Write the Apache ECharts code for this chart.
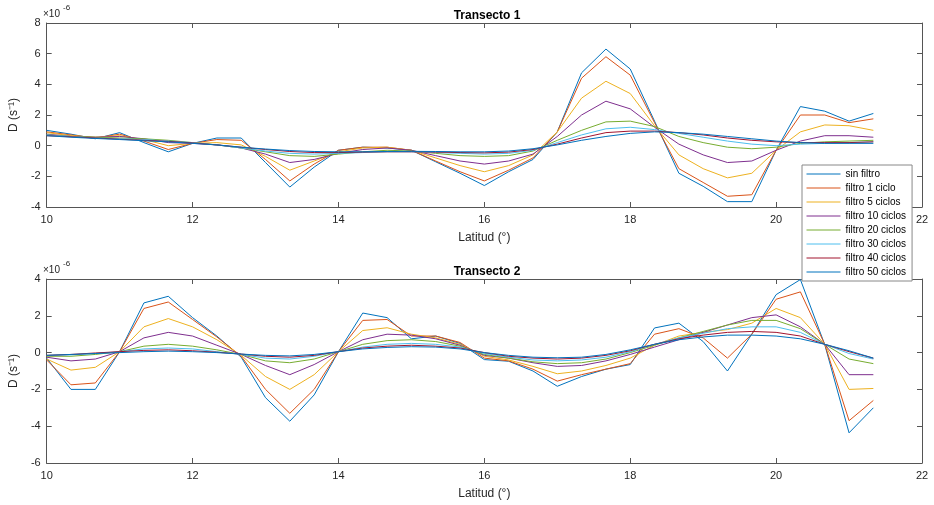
<!DOCTYPE html>
<html>
<head>
<meta charset="utf-8">
<script src="https://cdn.jsdelivr.net/npm/echarts@6/dist/echarts.min.js"></script>
<style>
html,body{margin:0;padding:0;background:#fff;}
#chart{width:934px;height:505px;}
</style>
</head>
<body>
<div id="chart"></div>
<script>
// Latitudes (x values)
const lat = [10.000,10.333,10.667,11.000,11.333,11.667,12.000,12.333,12.667,13.000,13.333,13.667,14.000,14.333,14.667,15.000,15.333,15.667,16.000,16.333,16.667,17.000,17.333,17.667,18.000,18.333,18.667,19.000,19.333,19.667,20.000,20.333,20.667,21.000,21.333];

const seriesNames = ['sin filtro','filtro 1 ciclo','filtro 5 ciclos','filtro 10 ciclos','filtro 20 ciclos','filtro 30 ciclos','filtro 40 ciclos','filtro 50 ciclos'];

// Transecto 1 (values x 1e-6)
const t1_sin = [1.0,0.75,0.45,0.85,0.2,-0.4,0.15,0.5,0.5,-1.1,-2.7,-1.4,-0.3,-0.1,-0.15,-0.3,-1.05,-1.8,-2.6,-1.7,-0.9,0.9,4.75,6.3,5.0,1.6,-1.8,-2.65,-3.65,-3.65,-0.3,2.55,2.25,1.6,2.1];
const t1_f1  = [0.9,0.7,0.5,0.75,0.3,-0.25,0.15,0.4,0.35,-0.9,-2.3,-1.2,-0.3,-0.1,-0.1,-0.3,-1.0,-1.7,-2.3,-1.6,-0.8,0.9,4.4,5.8,4.6,1.5,-1.5,-2.4,-3.3,-3.2,-0.3,2.0,2.0,1.5,1.75];
const t1_f5  = [0.85,0.65,0.55,0.65,0.4,0.0,0.15,0.2,0.05,-0.7,-1.6,-1.0,-0.4,-0.15,-0.1,-0.3,-0.8,-1.3,-1.7,-1.3,-0.6,0.9,3.1,4.2,3.4,1.3,-0.6,-1.5,-2.1,-1.8,-0.3,0.9,1.35,1.3,1.0];
const t1_f10 = [0.75,0.6,0.55,0.6,0.45,0.2,0.15,0.05,-0.15,-0.55,-1.1,-0.9,-0.5,-0.25,-0.15,-0.3,-0.65,-1.0,-1.2,-1.0,-0.55,0.6,2.0,2.9,2.4,1.2,0.1,-0.6,-1.1,-1.0,-0.3,0.3,0.65,0.65,0.55];
const t1_f20 = [0.7,0.6,0.55,0.5,0.45,0.35,0.2,0.05,-0.15,-0.4,-0.65,-0.7,-0.55,-0.4,-0.3,-0.35,-0.5,-0.65,-0.7,-0.65,-0.35,0.35,1.0,1.55,1.6,1.25,0.6,0.2,-0.1,-0.2,-0.1,0.15,0.25,0.3,0.35];
const t1_f30 = [0.7,0.6,0.5,0.45,0.4,0.3,0.2,0.05,-0.15,-0.35,-0.5,-0.55,-0.5,-0.45,-0.4,-0.4,-0.45,-0.5,-0.55,-0.5,-0.3,0.2,0.7,1.1,1.2,1.05,0.8,0.55,0.3,0.1,0.0,0.1,0.15,0.2,0.25];
const t1_f40 = [0.65,0.58,0.5,0.42,0.35,0.28,0.18,0.05,-0.1,-0.25,-0.38,-0.45,-0.45,-0.42,-0.4,-0.4,-0.42,-0.45,-0.47,-0.42,-0.25,0.1,0.5,0.85,0.95,0.95,0.85,0.7,0.5,0.35,0.25,0.2,0.2,0.2,0.25];
const t1_f50 = [0.65,0.55,0.47,0.4,0.32,0.25,0.15,0.05,-0.1,-0.22,-0.32,-0.38,-0.4,-0.4,-0.38,-0.37,-0.38,-0.4,-0.4,-0.35,-0.2,0.05,0.35,0.6,0.8,0.9,0.85,0.75,0.6,0.45,0.3,0.2,0.15,0.15,0.15];

// Transecto 2 (values x 1e-6)
const t2_sin = [-0.3,-2.0,-2.0,0.05,2.7,3.06,1.9,0.9,-0.25,-2.45,-3.73,-2.3,0.05,2.15,1.9,0.75,0.9,0.5,-0.38,-0.47,-1.0,-1.83,-1.3,-0.9,-0.65,1.34,1.6,0.6,-1.0,1.0,3.15,3.97,0.43,-4.36,-3.0];
const t2_f1  = [-0.4,-1.75,-1.65,0.05,2.4,2.75,1.8,0.85,-0.2,-2.0,-3.3,-2.0,0.05,1.75,1.8,0.9,0.9,0.55,-0.3,-0.45,-0.9,-1.55,-1.2,-0.9,-0.6,1.0,1.3,0.8,-0.3,1.0,2.9,3.3,0.45,-3.7,-2.6];
const t2_f5  = [-0.35,-0.95,-0.8,0.05,1.4,1.85,1.4,0.7,-0.15,-1.3,-2.0,-1.2,0.05,1.2,1.35,1.0,0.8,0.45,-0.2,-0.4,-0.75,-1.15,-1.0,-0.7,-0.3,0.4,0.9,1.1,1.25,1.6,2.4,1.9,0.45,-2.0,-1.95];
const t2_f10 = [-0.25,-0.45,-0.35,0.05,0.8,1.1,0.9,0.4,-0.1,-0.7,-1.2,-0.65,0.05,0.7,1.0,0.95,0.75,0.4,-0.15,-0.3,-0.55,-0.75,-0.7,-0.45,-0.1,0.3,0.7,1.1,1.5,1.9,2.05,1.4,0.45,-1.2,-1.2];
const t2_f20 = [-0.2,-0.2,-0.1,0.05,0.35,0.45,0.35,0.15,-0.1,-0.45,-0.55,-0.35,0.05,0.45,0.65,0.7,0.6,0.35,-0.1,-0.3,-0.5,-0.6,-0.55,-0.35,0.0,0.4,0.8,1.15,1.5,1.75,1.75,1.3,0.45,-0.35,-0.6];
const t2_f30 = [-0.15,-0.12,-0.05,0.05,0.2,0.25,0.2,0.05,-0.1,-0.3,-0.35,-0.2,0.05,0.3,0.45,0.5,0.45,0.3,-0.05,-0.25,-0.4,-0.45,-0.4,-0.25,0.05,0.45,0.8,1.05,1.3,1.4,1.4,1.1,0.45,-0.05,-0.35];
const t2_f40 = [-0.15,-0.1,-0.02,0.05,0.12,0.15,0.1,0.02,-0.08,-0.2,-0.25,-0.15,0.05,0.25,0.35,0.4,0.35,0.25,0.0,-0.2,-0.3,-0.35,-0.3,-0.15,0.1,0.45,0.75,0.95,1.1,1.15,1.1,0.9,0.45,0.05,-0.3];
const t2_f50 = [-0.15,-0.1,-0.05,0.0,0.05,0.08,0.05,0.0,-0.08,-0.15,-0.18,-0.1,0.05,0.2,0.28,0.32,0.3,0.2,0.0,-0.15,-0.25,-0.28,-0.25,-0.1,0.15,0.45,0.7,0.85,0.95,0.95,0.9,0.75,0.45,0.1,-0.3];

const xTicks = {min: 10, max: 22, interval: 2};
const y1Ticks = {min: -4, max: 8, interval: 2};
const y2Ticks = {min: -6, max: 4, interval: 2};

const colors = ['#0072BD','#D95319','#EDB120','#7E2F8E','#77AC30','#4DBEEE','#A2142F','#0072BD'];
const t1 = [t1_sin,t1_f1,t1_f5,t1_f10,t1_f20,t1_f30,t1_f40,t1_f50];
const t2 = [t2_sin,t2_f1,t2_f5,t2_f10,t2_f20,t2_f30,t2_f40,t2_f50];

const FONT = 'Liberation Sans, Arial, Helvetica, sans-serif';
const axisCol = '#555';
const labelCol = '#262626';

function xAx(gridIndex, pos, showLabel, name) {
  return {
    type: 'value', gridIndex: gridIndex, position: pos,
    min: xTicks.min, max: xTicks.max, interval: xTicks.interval,
    axisLine: {show: true, onZero: false, lineStyle: {color: axisCol, width: 1}},
    axisTick: {show: true, inside: true, length: 5, lineStyle: {color: axisCol}},
    axisLabel: {show: showLabel, color: labelCol, fontSize: 11, fontFamily: FONT, margin: 7},
    splitLine: {show: false},
    name: name || '', nameLocation: 'middle', nameGap: 25,
    nameTextStyle: {color: labelCol, fontSize: 12, fontFamily: FONT}
  };
}
function yAx(gridIndex, pos, showLabel, ticks, name) {
  return {
    type: 'value', gridIndex: gridIndex, position: pos,
    min: ticks.min, max: ticks.max, interval: ticks.interval,
    axisLine: {show: true, onZero: false, lineStyle: {color: axisCol, width: 1}},
    axisTick: {show: true, inside: true, length: 5, lineStyle: {color: axisCol}},
    axisLabel: {show: showLabel, color: labelCol, fontSize: 11, fontFamily: FONT, margin: 6},
    splitLine: {show: false},
    name: name || '', nameLocation: 'middle', nameGap: 20, nameRotate: 90,
    nameTextStyle: {color: labelCol, fontSize: 12, fontFamily: FONT}
  };
}

const series = [];
function addSeries(arrs, xi, yi) {
  arrs.forEach((vals, i) => {
    series.push({
      name: seriesNames[i], type: 'line', xAxisIndex: xi, yAxisIndex: yi,
      symbol: 'none', showSymbol: false, animation: false,
      lineStyle: {color: colors[i], width: 1},
      itemStyle: {color: colors[i]},
      data: lat.map((x, k) => [x, vals[k]])
    });
  });
}
addSeries(t1, 0, 0);
addSeries(t2, 2, 2);

const chart = echarts.init(document.getElementById('chart'), null, {renderer: 'canvas'});
chart.setOption({
  animation: false,
  backgroundColor: '#fff',
  title: [
    {text: 'Transecto 1', left: 482, top: 5, textAlign: 'center',
     textStyle: {fontSize: 12, fontWeight: 'bold', color: '#000', fontFamily: FONT}},
    {text: 'Transecto 2', left: 482, top: 261, textAlign: 'center',
     textStyle: {fontSize: 12, fontWeight: 'bold', color: '#000', fontFamily: FONT}}
  ],
  grid: [
    {left: 42, right: 12, top: 23, height: 184},
    {left: 42, right: 12, top: 279, height: 184}
  ],
  xAxis: [
    xAx(0, 'bottom', true, 'Latitud (°)'),
    xAx(0, 'top', false),
    xAx(1, 'bottom', true, 'Latitud (°)'),
    xAx(1, 'top', false)
  ],
  yAxis: [
    yAx(0, 'left', true, y1Ticks, 'D (s⁻¹)'),
    yAx(0, 'right', false, y1Ticks),
    yAx(1, 'left', true, y2Ticks, 'D (s⁻¹)'),
    yAx(1, 'right', false, y2Ticks)
  ],
  legend: {
    show: true, orient: 'vertical', left: 802, top: 165,
    data: seriesNames.slice(0, 8),
    itemWidth: 34, itemHeight: 10, itemGap: 4,
    padding: [4, 6, 4, 4],
    backgroundColor: '#fff', borderColor: '#888', borderWidth: 1,
    selectedMode: false,
    itemStyle: {opacity: 0},
    lineStyle: {width: 1},
    textStyle: {fontSize: 10, color: '#000', fontFamily: FONT, padding: [0, 0, 0, 0]}
  },
  graphic: [
    {type: 'text', left: 43, top: 9, style: {text: '×10', fontSize: 10, fill: labelCol, fontFamily: FONT}},
    {type: 'text', left: 63, top: 4, style: {text: '-6', fontSize: 8, fill: labelCol, fontFamily: FONT}},
    {type: 'text', left: 43, top: 265, style: {text: '×10', fontSize: 10, fill: labelCol, fontFamily: FONT}},
    {type: 'text', left: 63, top: 260, style: {text: '-6', fontSize: 8, fill: labelCol, fontFamily: FONT}}
  ],
  series: series
});
</script>
</body>
</html>
